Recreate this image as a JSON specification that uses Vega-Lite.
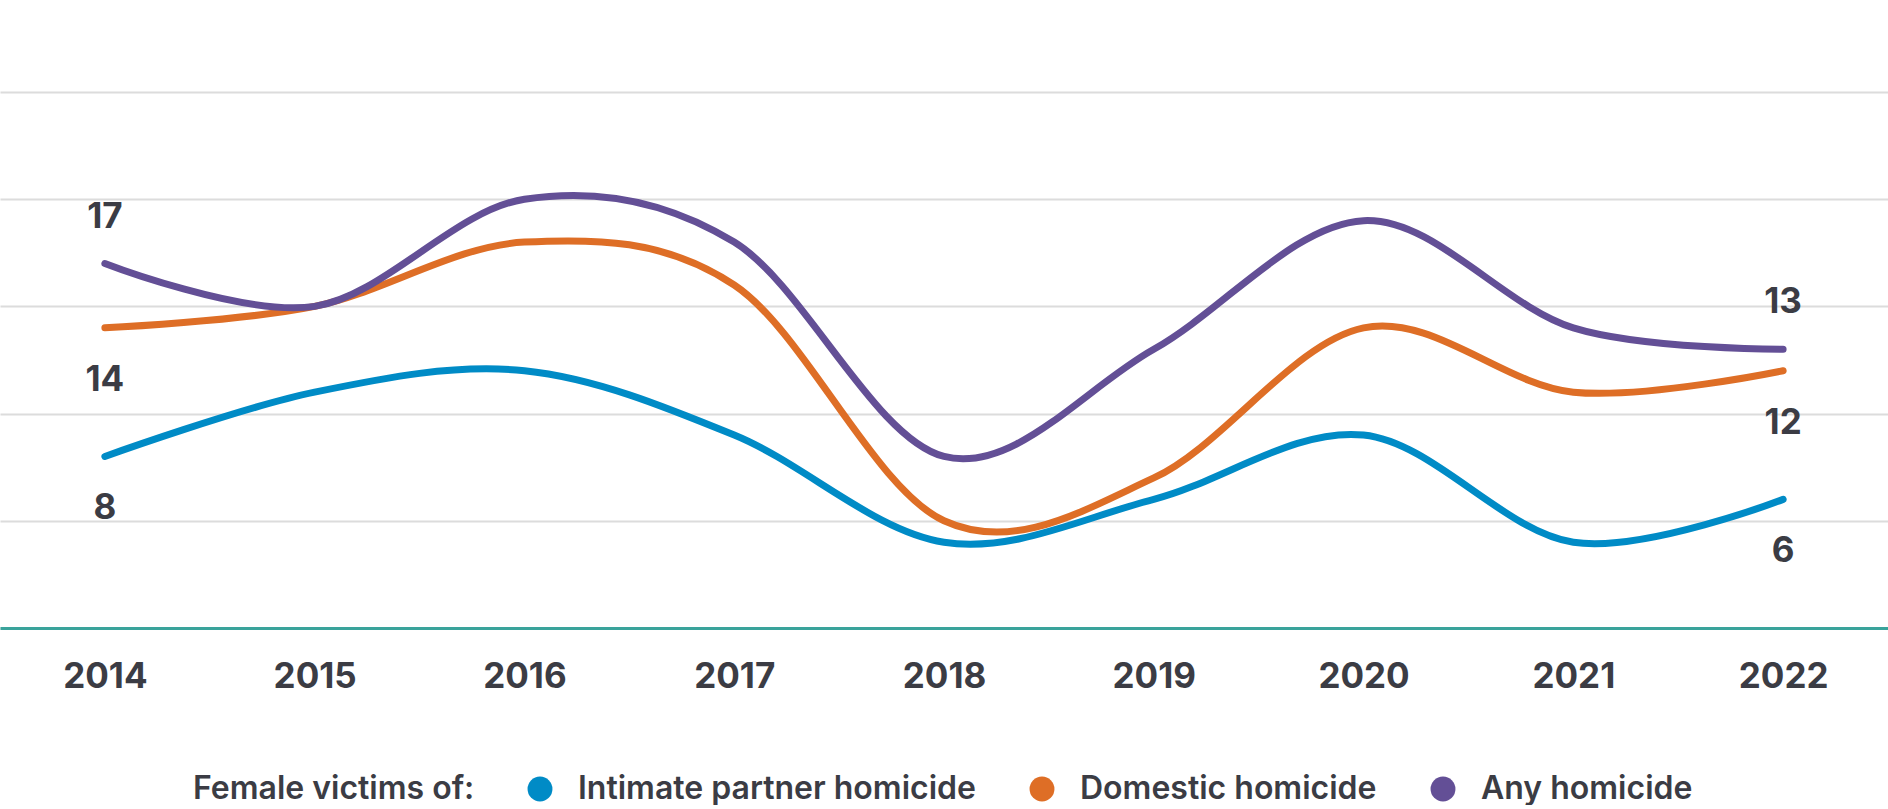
{
  "$schema": "https://vega.github.io/schema/vega-lite/v6.json",
  "width": 1888,
  "height": 536,
  "padding": {"top": 92, "left": 0, "right": 0, "bottom": 0},
  "background": "white",
  "config": {
    "view": {"stroke": null},
    "font": "Inter"
  },
  "data": {
    "values": [
      {"year": 2014, "series": "Intimate partner homicide", "value": 8},
      {"year": 2015, "series": "Intimate partner homicide", "value": 11},
      {"year": 2016, "series": "Intimate partner homicide", "value": 12},
      {"year": 2017, "series": "Intimate partner homicide", "value": 9},
      {"year": 2018, "series": "Intimate partner homicide", "value": 4},
      {"year": 2019, "series": "Intimate partner homicide", "value": 6},
      {"year": 2020, "series": "Intimate partner homicide", "value": 9},
      {"year": 2021, "series": "Intimate partner homicide", "value": 4},
      {"year": 2022, "series": "Intimate partner homicide", "value": 6},
      {"year": 2014, "series": "Domestic homicide", "value": 14},
      {"year": 2015, "series": "Domestic homicide", "value": 15},
      {"year": 2016, "series": "Domestic homicide", "value": 18},
      {"year": 2017, "series": "Domestic homicide", "value": 16},
      {"year": 2018, "series": "Domestic homicide", "value": 5},
      {"year": 2019, "series": "Domestic homicide", "value": 7},
      {"year": 2020, "series": "Domestic homicide", "value": 14},
      {"year": 2021, "series": "Domestic homicide", "value": 11},
      {"year": 2022, "series": "Domestic homicide", "value": 12},
      {"year": 2014, "series": "Any homicide", "value": 17},
      {"year": 2015, "series": "Any homicide", "value": 15},
      {"year": 2016, "series": "Any homicide", "value": 20},
      {"year": 2017, "series": "Any homicide", "value": 18},
      {"year": 2018, "series": "Any homicide", "value": 8},
      {"year": 2019, "series": "Any homicide", "value": 13},
      {"year": 2020, "series": "Any homicide", "value": 19},
      {"year": 2021, "series": "Any homicide", "value": 14},
      {"year": 2022, "series": "Any homicide", "value": 13}
    ]
  },
  "encoding": {
    "x": {
      "field": "year",
      "type": "ordinal",
      "scale": {"type": "point", "padding": 0.5},
      "axis": {
        "title": null,
        "labelAngle": 0,
        "ticks": false,
        "tickSize": 0,
        "grid": false,
        "domainColor": "#3aa39b",
        "domainWidth": 3,
        "labelFontSize": 35,
        "labelFontWeight": 700,
        "labelColor": "#3b3c44",
        "labelPadding": 31
      }
    },
    "y": {
      "field": "value",
      "type": "quantitative",
      "scale": {"domain": [0, 25]},
      "axis": {
        "title": null,
        "labels": false,
        "ticks": false,
        "domain": false,
        "grid": true,
        "gridColor": "#dcdcdc",
        "gridWidth": 2,
        "values": [0, 5, 10, 15, 20, 25],
        "minExtent": 0,
        "maxExtent": 0
      }
    }
  },
  "layer": [
    {
      "mark": {"type": "line", "interpolate": "cardinal", "strokeWidth": 7, "strokeCap": "round", "strokeJoin": "round"},
      "encoding": {
        "color": {
          "field": "series",
          "type": "nominal",
          "scale": {
            "domain": ["Intimate partner homicide", "Domestic homicide", "Any homicide"],
            "range": ["#008bc6", "#de6e26", "#634f96"]
          },
          "legend": {
            "orient": "none",
            "legendX": 193,
            "legendY": 681,
            "direction": "horizontal",
            "title": "Female victims of:",
            "titleOrient": "left",
            "titleFontSize": 32,
            "titleFontWeight": 600,
            "titleColor": "#3b3c44",
            "titleLimit": 1000,
            "titlePadding": 49,
            "titleBaseline": "middle",
            "titleAnchor": "middle",
            "labelFontSize": 32,
            "labelFontWeight": 600,
            "labelColor": "#3b3c44",
            "labelLimit": 1000,
            "labelOffset": 22,
            "columnPadding": 50,
            "symbolType": "circle",
            "symbolSize": 620,
            "symbolStrokeWidth": 0,
            "padding": 0,
            "encode": {
              "symbols": {
                "update": {
                  "fill": {"scale": "color", "field": "value"},
                  "fillOpacity": {"value": 1},
                  "strokeWidth": {"value": 0}
                }
              }
            }
          }
        }
      }
    },
    {
      "transform": [
        {"filter": {"field": "series", "equal": "Any homicide"}},
        {"filter": {"field": "year", "oneOf": [2014, 2022]}}
      ],
      "mark": {"type": "text", "dy": -47, "fontSize": 35, "fontWeight": 700, "color": "#3b3c44"},
      "encoding": {"text": {"field": "value", "type": "quantitative"}}
    },
    {
      "transform": [
        {"filter": {"field": "series", "oneOf": ["Intimate partner homicide", "Domestic homicide"]}},
        {"filter": {"field": "year", "oneOf": [2014, 2022]}}
      ],
      "mark": {"type": "text", "dy": 52, "fontSize": 35, "fontWeight": 700, "color": "#3b3c44"},
      "encoding": {"text": {"field": "value", "type": "quantitative"}}
    }
  ]
}
